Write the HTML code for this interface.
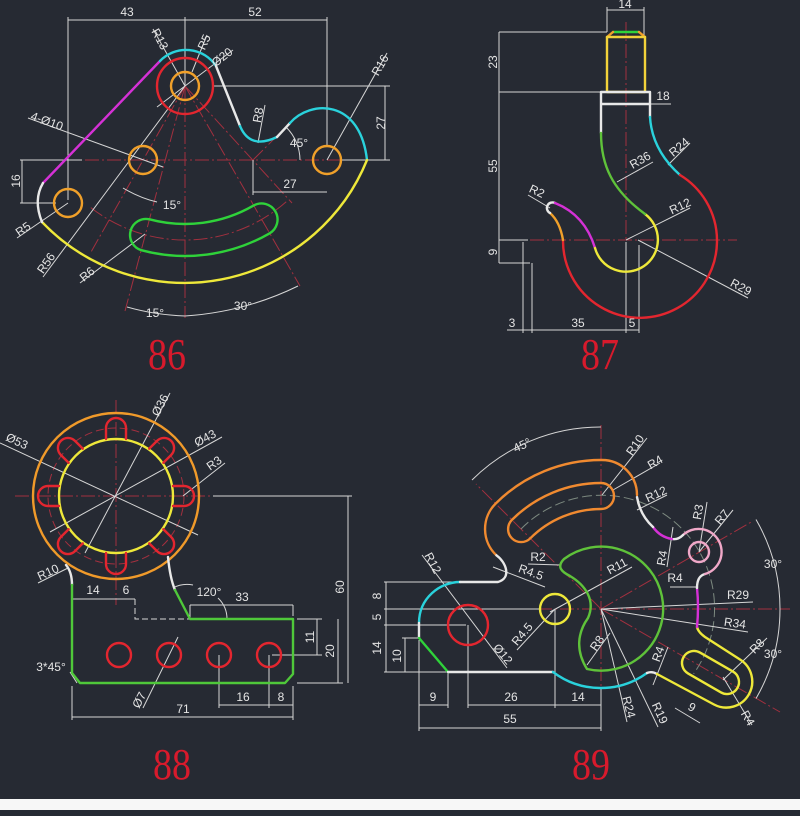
<!DOCTYPE html>
<html><head><meta charset="utf-8"><style>
html,body{margin:0;padding:0;background:#262a33;}
svg{display:block}
.o{fill:none;stroke-width:2.4;stroke-linecap:round;stroke-linejoin:round}
.d{fill:none;stroke:#d6d6d6;stroke-width:1}
.c{fill:none;stroke:#a3303f;stroke-width:1;stroke-dasharray:14 3 2 3}
text{font-family:"Liberation Sans",sans-serif;font-size:12px;fill:#e4e4e4;text-anchor:middle}
.n{font-family:"Liberation Serif",serif;font-size:44px;fill:#d81a2c}
</style></head><body>
<svg width="800" height="816" viewBox="0 0 800 816" xmlns="http://www.w3.org/2000/svg">
<rect width="800" height="816" fill="#262a33"/>
<rect y="799" width="800" height="11" fill="#f7f7f7"/>

<!-- ============ 86 ============ -->
<path class="c" d="M85,160H387 M185,86V318 M185,86L125,311 M185,86L300,286 M185,86L91,252 M185,86L292,203 M253,160L290,123 M90.8,207.6A153,153 0 0 0 287.4,200.7"/>
<path class="d" d="M68,20H327 M68,17V200 M185,17V86 M327,17V146 M213,86H390 M340,160H390 M385,86V160 M20,160H82 M20,203H56 M22,160V203 M253,160V195 M253,192H327
M153,29L185,86 M207,35L192,72 M233,50L157,107 M28,118L163,167 M387,53L327,160 M265,105L258,143 M17,238L68,203 M43,277L185,86 M80,283L145,234
M123,188Q140,198 157,202 M127,307Q155,315 185,316 M185,316Q245,312 298,286 M300,160A47,47 0 0 0 286,127"/>
<path class="o" stroke="#d531d6" d="M160,61L43,183"/>
<path class="o" stroke="#2ad2dc" d="M160,61A36,36 0 0 1 216,66"/>
<path class="o" stroke="#e8e8e8" d="M216,66L240,126"/>
<path class="o" stroke="#2ad2dc" d="M240,126Q250,150 277,137"/>
<path class="o" stroke="#e8e8e8" d="M277,137L290,123"/>
<path class="o" stroke="#2ad2dc" d="M290,123C310,100 360,98 367,160"/>
<path class="o" stroke="#eee83a" d="M367,160A197,197 0 0 1 42,222"/>
<path class="o" stroke="#e8e8e8" d="M43,183Q33,200 42,222"/>
<circle class="o" cx="185" cy="86" r="28" stroke="#e3262f"/>
<circle class="o" cx="185" cy="86" r="14" stroke="#f0a02a"/>
<circle class="o" cx="143" cy="160" r="14" stroke="#f0a02a"/>
<circle class="o" cx="327" cy="160" r="14" stroke="#f0a02a"/>
<circle class="o" cx="68" cy="203" r="14" stroke="#f0a02a"/>
<path class="o" stroke="#2fd23a" d="M141.3,250.2A169,169 0 0 0 269.5,233.4A16,16 0 0 0 253.5,205.6A137,137 0 0 1 149.5,219.3A16,16 0 0 0 141.3,250.2Z"/>
<text x="127" y="16">43</text><text x="255" y="16">52</text>
<text transform="translate(381,123) rotate(-90)" dy=".35em">27</text>
<text transform="translate(16,181) rotate(-90)" dy=".35em">16</text>
<text x="290" y="188">27</text>
<text x="299" y="147">45°</text>
<text x="172" y="209">15°</text>
<text x="155" y="317">15°</text>
<text x="243" y="310">30°</text>
<text transform="translate(160,39) rotate(62)" dy=".35em">R13</text>
<text transform="translate(204,42) rotate(-65)" dy=".35em">R5</text>
<text transform="translate(222,57) rotate(-38)" dy=".35em">Ø20</text>
<text transform="translate(47,121) rotate(20)" dy=".35em">4-Ø10</text>
<text transform="translate(380,65) rotate(-60)" dy=".35em">R16</text>
<text transform="translate(258,115) rotate(-80)" dy=".35em">R8</text>
<text transform="translate(23,229) rotate(-35)" dy=".35em">R5</text>
<text transform="translate(46,263) rotate(-55)" dy=".35em">R56</text>
<text transform="translate(87,274) rotate(-40)" dy=".35em">R6</text>

<!-- ============ 87 ============ -->
<path class="c" d="M530,240H737 M626,22V333"/>
<path class="d" d="M607,10H644 M607,7V32 M644,7V37 M499,32H607 M499,92H600 M601,104H671 M499,32V263 M499,240H528 M499,263H530
M523,242V333 M532,263V333 M626,242V333 M639,245V333 M507,330H639
M528,195L550,208 M653,162L617,182 M690,143L668,165 M690,208L626,240 M638,240L748,298"/>
<path class="o" stroke="#2fd23a" d="M613,32H639"/>
<path class="o" stroke="#f0a02a" d="M607,37L613,32 M639,32L645,37"/>
<path class="o" stroke="#f2d23a" d="M607,37H645V92H607Z"/>
<path class="o" stroke="#e8e8e8" d="M601,92H650V104H601Z M601,104V133 M650,104V117"/>
<path class="o" stroke="#2ad2dc" d="M650,117Q652,150 680,175"/>
<path class="o" stroke="#e3262f" d="M680,175A77,77 0 1 1 563,240"/>
<path class="o" stroke="#f0a02a" d="M563,240Q560,222 550,213"/>
<path class="o" stroke="#e8e8e8" d="M550,213A4,4 0 0 1 555,203"/>
<path class="o" stroke="#d531d6" d="M555,203Q585,215 595,248"/>
<path class="o" stroke="#eee83a" d="M595,248A32,32 0 1 0 645,214"/>
<path class="o" stroke="#5fc23a" d="M601,133C601,165 612,190 645,214"/>
<text x="625" y="8">14</text><text x="663" y="100">18</text>
<text transform="translate(493,62) rotate(-90)" dy=".35em">23</text>
<text transform="translate(493,166) rotate(-90)" dy=".35em">55</text>
<text transform="translate(493,252) rotate(-90)" dy=".35em">9</text>
<text x="512" y="327">3</text><text x="578" y="327">35</text><text x="632" y="327">5</text>
<text transform="translate(537,191) rotate(25)" dy=".35em">R2</text>
<text transform="translate(640,160) rotate(-30)" dy=".35em">R36</text>
<text transform="translate(679,147) rotate(-40)" dy=".35em">R24</text>
<text transform="translate(680,206) rotate(-25)" dy=".35em">R12</text>
<text transform="translate(741,287) rotate(28)" dy=".35em">R29</text>

<!-- ============ 88 ============ -->
<path class="c" d="M15,496H212 M116,400V605"/>
<circle cx="116" cy="496" r="68" fill="none" stroke="#a3303f" stroke-width="1" stroke-dasharray="8 4"/>
<path class="d" d="M72,599H135 M190,605H293 M190,605V619 M293,605V616 M297,619H322 M272,655H322 M317,619V655 M297,683H343 M338,619V683 M213,496H352 M348,496V683 M219,655V708 M269,655V708 M293,686V708 M219,705H293 M72,686V720 M72,717H293 M293,708V720
M0,443L198,535 M170,393L85,553 M222,437L50,532 M225,463L183,496 M38,583L68,568 M70,672L77,683 M143,708L178,637 M173,588Q182,583 193,585 M218,598A29,29 0 0 1 227,619"/>
<path fill="none" stroke="#d6d6d6" stroke-width="1" stroke-dasharray="6 3" d="M135,599V619H190"/>
<circle class="o" cx="116" cy="496" r="83" stroke="#f09a2a"/>
<circle class="o" cx="116" cy="496" r="57" stroke="#eee83a"/>
<g class="o" stroke="#e3262f">
<path d="M173,486H184A10,10 0 0 1 184,506H173"/>
<path transform="rotate(45 116 496)" d="M173,486H184A10,10 0 0 1 184,506H173"/>
<path transform="rotate(90 116 496)" d="M173,486H184A10,10 0 0 1 184,506H173"/>
<path transform="rotate(135 116 496)" d="M173,486H184A10,10 0 0 1 184,506H173"/>
<path transform="rotate(180 116 496)" d="M173,486H184A10,10 0 0 1 184,506H173"/>
<path transform="rotate(225 116 496)" d="M173,486H184A10,10 0 0 1 184,506H173"/>
<path transform="rotate(270 116 496)" d="M173,486H184A10,10 0 0 1 184,506H173"/>
<path transform="rotate(315 116 496)" d="M173,486H184A10,10 0 0 1 184,506H173"/>
</g>
<path class="o" stroke="#e8e8e8" d="M66,565Q72,572 72,585 M168,557Q170,578 175,590"/>
<path class="o" stroke="#4fc83a" d="M72,585V673L80,683H285L293,674V619H190L175,590"/>
<g class="o" stroke="#e3262f"><circle cx="119" cy="655" r="12"/><circle cx="169" cy="655" r="12"/><circle cx="219" cy="655" r="12"/><circle cx="269" cy="655" r="12"/></g>
<text transform="translate(17,441) rotate(25)" dy=".35em">Ø53</text>
<text transform="translate(160,405) rotate(-62)" dy=".35em">Ø36</text>
<text transform="translate(205,438) rotate(-28)" dy=".35em">Ø43</text>
<text transform="translate(214,463) rotate(-35)" dy=".35em">R3</text>
<text transform="translate(48,572) rotate(-25)" dy=".35em">R10</text>
<text x="93" y="594">14</text><text x="126" y="594">6</text><text x="209" y="596">120°</text><text x="242" y="601">33</text>
<text transform="translate(310,637) rotate(-90)" dy=".35em">11</text>
<text transform="translate(330,651) rotate(-90)" dy=".35em">20</text>
<text transform="translate(340,587) rotate(-90)" dy=".35em">60</text>
<text x="243" y="701">16</text><text x="281" y="701">8</text><text x="183" y="713">71</text>
<text x="51" y="671">3*45°</text>
<text transform="translate(139,700) rotate(-62)" dy=".35em">Ø7</text>

<!-- ============ 89 ============ -->
<path class="c" d="M384,609H790 M601,425V690 M601,609L753,521 M601,609L780,712 M601,609L476,484"/>
<path fill="none" stroke="#7d8a80" stroke-width="1" stroke-dasharray="10 4" d="M521,529A113,113 0 0 1 693.6,673.8"/>
<path class="d" d="M384,582H460 M384,609H540 M384,625H466 M384,672H448 M386,582V672 M402,638H419 M405,638V672
M419,640V731 M448,672V708 M468,625V708 M555,609V708 M601,688V731 M419,705H448 M468,705H601 M419,728H601 M675,708L700,723
M601,427A182,182 0 0 0 472,480 M756,519.5A179,179 0 0 1 780,609 M780,609A179,179 0 0 1 756,698.5
M647,438L602,495 M660,463L613,490 M667,495L637,510 M528,564L560,565 M493,567L545,587 M632,567L550,612 M517,650L555,609 M422,555L507,668
M587,665L610,633 M653,685L668,647 M601,609L627,722 M601,609L658,727 M707,502L699,552 M733,510L699,552 M667,567L673,527 M670,587L697,587
M601,609L753,602 M601,609L748,632 M767,638L723,680 M752,725L723,677"/>
<path class="o" stroke="#2ad2dc" d="M460,582C440,582 419,598 419,623"/>
<path class="o" stroke="#e8e8e8" d="M419,623V638"/>
<path class="o" stroke="#2fd23a" d="M419,638L448,672"/>
<path class="o" stroke="#e8e8e8" d="M448,672H553"/>
<path class="o" stroke="#2ad2dc" d="M553,672A79,79 0 0 0 647,673"/>
<path class="o" stroke="#e8e8e8" d="M647,673Q652,671 657,674"/>
<path class="o" stroke="#eee83a" d="M657,674L714,704.5A26,26 0 0 0 740,659.5L705,637Q698,632 697,627"/>
<path class="o" stroke="#d531d6" d="M697,627Q699,607 697,588"/>
<path class="o" stroke="#e8e8e8" d="M697,588Q697,576 705,574"/>
<path class="o" stroke="#f0a8c8" d="M705,574A23,23 0 1 0 683,535"/>
<circle class="o" cx="699" cy="552" r="10" stroke="#f0a8c8"/>
<path class="o" stroke="#e8e8e8" d="M683,535Q678,540 672,539"/>
<path class="o" stroke="#d531d6" d="M672,539Q660,537 653,527"/>
<path class="o" stroke="#e8e8e8" d="M653,527Q640,515 637,497"/>
<path class="o" stroke="#f08a30" d="M637,495A35,35 0 0 0 602,460A149,149 0 0 0 495.6,503.6A36,36 0 0 0 496.4,555.3"/>
<path class="o" stroke="#e8e8e8" d="M496.4,555.3C506,562 512,578 498,582H460"/>
<path class="o" stroke="#f08a30" d="M601,483A126,126 0 0 0 511.9,519.9A13,13 0 0 0 530.3,538.3A100,100 0 0 1 601,509A13,13 0 0 0 601,483Z"/>
<path class="o" stroke="#eee83a" d="M700,652.6L733,671.6A12,12 0 0 1 721,692.4L688,673.4A12,12 0 0 1 700,652.6Z"/>
<path class="o" stroke="#5fc23a" d="M564,559A62,62 0 1 1 587,669C575,650 578,632 588,618C596,600 585,585 570,576C562,572 556,567 564,559Z"/>
<circle class="o" cx="555" cy="609" r="15" stroke="#eee83a"/>
<circle class="o" cx="468" cy="625" r="20" stroke="#e3262f"/>
<text transform="translate(522,445) rotate(-25)" dy=".35em">45°</text>
<text x="773" y="568">30°</text><text x="773" y="658">30°</text>
<text transform="translate(377,596) rotate(-90)" dy=".35em">8</text>
<text transform="translate(377,617) rotate(-90)" dy=".35em">5</text>
<text transform="translate(377,648) rotate(-90)" dy=".35em">14</text>
<text transform="translate(397,656) rotate(-90)" dy=".35em">10</text>
<text x="433" y="701">9</text><text x="511" y="701">26</text><text x="578" y="701">14</text><text x="510" y="723">55</text>
<text transform="translate(635,445) rotate(-55)" dy=".35em">R10</text>
<text transform="translate(655,462) rotate(-30)" dy=".35em">R4</text>
<text transform="translate(656,494) rotate(-25)" dy=".35em">R12</text>
<text transform="translate(538,557)" dy=".35em">R2</text>
<text transform="translate(531,572) rotate(20)" dy=".35em">R4.5</text>
<text transform="translate(617,566) rotate(-28)" dy=".35em">R11</text>
<text transform="translate(522,634) rotate(-50)" dy=".35em">R4.5</text>
<text transform="translate(433,563) rotate(62)" dy=".35em">R12</text>
<text transform="translate(503,654) rotate(50)" dy=".35em">Ø12</text>
<text transform="translate(597,643) rotate(-55)" dy=".35em">R8</text>
<text transform="translate(658,654) rotate(-70)" dy=".35em">R4</text>
<text transform="translate(629,707) rotate(75)" dy=".35em">R24</text>
<text transform="translate(660,713) rotate(65)" dy=".35em">R19</text>
<text transform="translate(698,512) rotate(-80)" dy=".35em">R3</text>
<text transform="translate(722,517) rotate(-50)" dy=".35em">R7</text>
<text transform="translate(662,558) rotate(-80)" dy=".35em">R4</text>
<text transform="translate(675,578)" dy=".35em">R4</text>
<text transform="translate(738,595)" dy=".35em">R29</text>
<text transform="translate(735,623) rotate(8)" dy=".35em">R34</text>
<text transform="translate(757,646) rotate(-45)" dy=".35em">R8</text>
<text transform="translate(748,718) rotate(60)" dy=".35em">R4</text>
<text transform="translate(692,707) rotate(30)" dy=".35em">9</text>

<!-- figure numbers -->
<text class="n" x="167" y="369" textLength="38" lengthAdjust="spacingAndGlyphs">86</text>
<text class="n" x="600" y="369" textLength="38" lengthAdjust="spacingAndGlyphs">87</text>
<text class="n" x="172" y="779" textLength="38" lengthAdjust="spacingAndGlyphs">88</text>
<text class="n" x="591" y="779" textLength="38" lengthAdjust="spacingAndGlyphs">89</text>
</svg>
</body></html>
